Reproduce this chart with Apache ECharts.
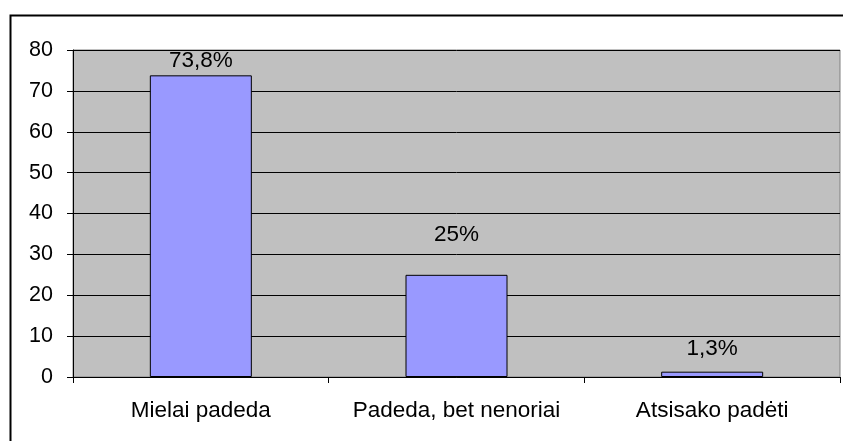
<!DOCTYPE html>
<html>
<head>
<meta charset="utf-8">
<title>Chart</title>
<script src="https://cdn.jsdelivr.net/npm/echarts@6/dist/echarts.min.js"></script>
<style>
  html, body { margin: 0; padding: 0; background: #fff; }
  #main { width: 843px; height: 441px; }
</style>
</head>
<body>
<div id="main"></div>
<script type="text/javascript">
var categories = ['Mielai padeda', 'Padeda, bet nenoriai', 'Atsisako padėti'];
var values = [73.8, 25, 1.3];
var valueLabels = ['73,8%', '25%', '1,3%'];
// label gaps above bars, as in the original picture
var labelGaps = [3, 29, 11];

var font = 'Liberation Sans, Arial, sans-serif';

var barData = values.map(function (v, i) {
    return { value: v, label: { distance: labelGaps[i] } };
});

var myChart = echarts.init(document.getElementById('main'));

var option = {
    animation: false,
    textStyle: { fontFamily: font },
    graphic: [{
        type: 'rect',
        left: 8, top: 13,
        shape: { width: 900, height: 500 },
        style: { fill: 'none', stroke: '#000', lineWidth: 2 },
        silent: true
    }],
    grid: {
        left: 73, top: 50, right: 3, bottom: 64,
        show: true,
        backgroundColor: '#C0C0C0',
        borderColor: '#808080',
        borderWidth: 1
    },
    xAxis: {
        type: 'category',
        data: categories,
        axisLine: { lineStyle: { color: '#000', width: 1 } },
        axisTick: { show: true, length: 6, lineStyle: { color: '#000' } },
        axisLabel: {
            color: '#000', fontSize: 22.5, fontFamily: font, margin: 22,
            interval: 0, hideOverlap: false
        },
        splitLine: { show: false }
    },
    yAxis: {
        type: 'value',
        min: 0, max: 80, interval: 10,
        axisLine: { show: true, lineStyle: { color: '#000', width: 1 } },
        axisTick: { show: true, length: 6, lineStyle: { color: '#000' } },
        axisLabel: { color: '#000', fontSize: 21.5, fontFamily: font, margin: 20 },
        splitLine: { show: true, lineStyle: { color: '#000', width: 1 } }
    },
    series: [{
        type: 'bar',
        data: barData,
        barWidth: 102,
        itemStyle: { color: '#9999FF', borderColor: '#000', borderWidth: 1 },
        label: {
            show: true,
            position: 'top',
            color: '#000',
            fontSize: 22.5,
            fontFamily: font,
            formatter: function (p) { return valueLabels[p.dataIndex]; }
        }
    }]
};
myChart.setOption(option);
</script>
</body>
</html>
